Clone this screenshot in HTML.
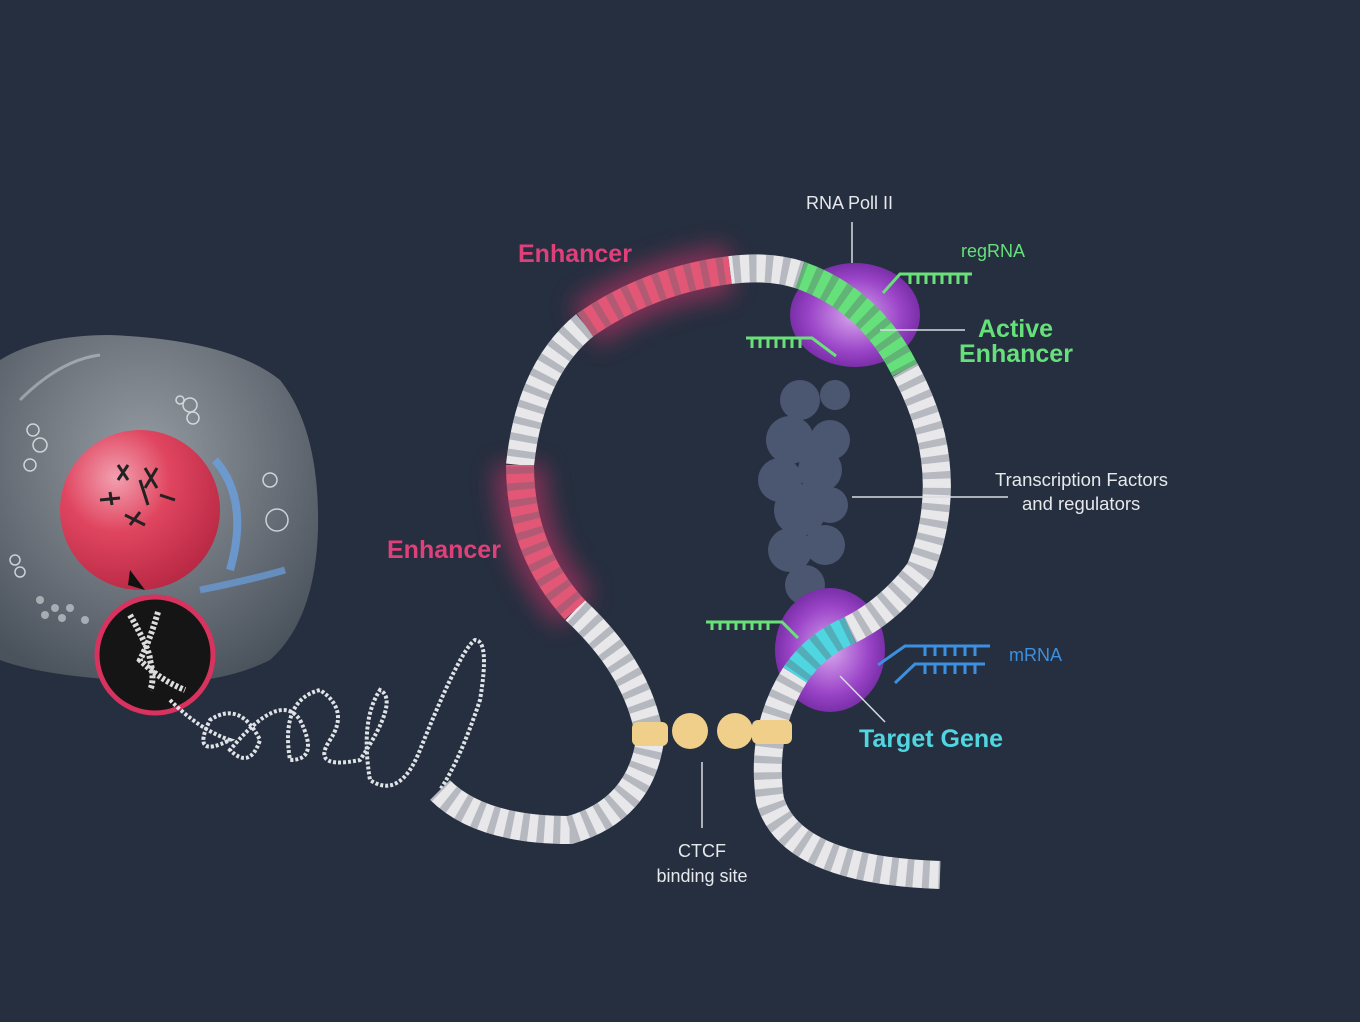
<!DOCTYPE html>
<html><head><meta charset="utf-8"><style>
html,body{margin:0;padding:0;background:#252f3f;}
svg{display:block}
text{font-family:"Liberation Sans",sans-serif}
</style></head><body>
<svg width="1360" height="1022" viewBox="0 0 1360 1022" xmlns="http://www.w3.org/2000/svg">
<defs>
<radialGradient id="cell" cx="0.45" cy="0.35" r="0.7"><stop offset="0" stop-color="#9aa0a6"/><stop offset="0.6" stop-color="#6c737b"/><stop offset="1" stop-color="#4c545e"/></radialGradient>
<radialGradient id="nuc" cx="0.35" cy="0.3" r="0.75"><stop offset="0" stop-color="#f2a0b0"/><stop offset="0.45" stop-color="#e0455f"/><stop offset="1" stop-color="#b82844"/></radialGradient>
<radialGradient id="pur" cx="0.5" cy="0.5" r="0.5"><stop offset="0" stop-color="#d9a8ee"/><stop offset="0.7" stop-color="#9b45c8"/><stop offset="1" stop-color="#7a2fa8"/></radialGradient>
<filter id="blur" x="-50%" y="-50%" width="200%" height="200%"><feGaussianBlur stdDeviation="12"/></filter>
</defs>
<rect width="1360" height="1022" fill="#252f3f"/>
<!-- cell -->
<path d="M0 360 Q40 335 110 335 Q230 340 280 380 Q320 430 318 530 Q315 620 270 660 Q210 690 120 680 Q40 675 0 660 Z" fill="url(#cell)" opacity="0.95"/>
<g fill="none" stroke="#e8ecf0" stroke-width="1.5" opacity="0.8">
<circle cx="190" cy="405" r="7"/><circle cx="180" cy="400" r="4"/><circle cx="193" cy="418" r="6"/>
<circle cx="33" cy="430" r="6"/><circle cx="40" cy="445" r="7"/><circle cx="30" cy="465" r="6"/>
<circle cx="270" cy="480" r="7"/><circle cx="277" cy="520" r="11"/>
<circle cx="15" cy="560" r="5"/><circle cx="20" cy="572" r="5"/>
<path d="M20 400 Q60 360 100 355" stroke-width="3" opacity="0.5"/>
</g>
<g fill="#c8ccd0" opacity="0.7"><circle cx="40" cy="600" r="4"/><circle cx="55" cy="608" r="4"/><circle cx="45" cy="615" r="4"/><circle cx="62" cy="618" r="4"/><circle cx="70" cy="608" r="4"/><circle cx="85" cy="620" r="4"/></g>
<path d="M215 460 Q250 500 230 570" stroke="#6aa0e0" stroke-width="8" fill="none" opacity="0.8"/>
<path d="M200 590 Q250 580 285 570" stroke="#6aa0e0" stroke-width="7" fill="none" opacity="0.7"/>
<circle cx="140" cy="510" r="80" fill="url(#nuc)"/>
<g stroke="#222" stroke-width="3"><path d="M118 465 L128 480 M128 465 L118 480 M145 468 L157 488 M157 468 L145 488 M100 500 L120 498 M110 492 L112 505 M160 495 L175 500 M125 515 L145 525 M130 525 L140 512 M140 480 L148 505"/></g>
<path d="M128 585 L130 570 L145 590 Z" fill="#111"/>
<circle cx="155" cy="655" r="58" fill="#151515" stroke="#d8325f" stroke-width="5"/>
<g stroke="#ddd" stroke-width="6" fill="none" stroke-dasharray="3 2"><path d="M130 615 Q150 650 150 660 Q155 680 150 690"/><path d="M158 612 Q150 640 140 660 Q160 680 185 690"/></g>
<!-- chromatin -->
<path d="M170 700 Q200 730 230 740 Q190 760 210 720 Q240 700 260 740 Q250 770 230 750 Q280 690 300 720 Q320 760 290 760 Q280 700 320 690 Q350 710 330 740 Q310 770 360 760 Q400 700 380 690 Q360 720 370 780 Q400 800 420 750 Q460 650 475 640 Q490 640 480 700 Q460 760 440 790" fill="none" stroke="#dfe2e6" stroke-width="4" stroke-dasharray="3 2"/>
<!-- glows -->
<g filter="url(#blur)" opacity="0.55"><path d="M585 325 Q650 280 730 270" stroke="#d0306a" stroke-width="50" fill="none"/><path d="M520 465 Q520 550 575 610" stroke="#d0306a" stroke-width="50" fill="none"/></g>
<!-- TF cluster -->
<g fill="#4b5670"><circle cx="800" cy="400" r="20"/><circle cx="835" cy="395" r="15"/><circle cx="790" cy="440" r="24"/><circle cx="830" cy="440" r="20"/><circle cx="780" cy="480" r="22"/><circle cx="820" cy="470" r="22"/><circle cx="800" cy="510" r="26"/><circle cx="830" cy="505" r="18"/><circle cx="790" cy="550" r="22"/><circle cx="825" cy="545" r="20"/><circle cx="805" cy="585" r="20"/></g>
<!-- purple blobs -->
<ellipse cx="855" cy="315" rx="65" ry="52" fill="url(#pur)"/>
<ellipse cx="830" cy="650" rx="55" ry="62" fill="url(#pur)"/>
<!-- DNA rope -->
<g fill="none" stroke-width="28" stroke-linecap="butt">
<path d="M585 325 Q530 370 520 465" stroke="#e8e8ea"/>
<path d="M575 610 Q640 670 650 740 Q640 810 570 830 Q480 830 440 790" stroke="#e8e8ea"/>
<path d="M730 270 Q770 265 800 275" stroke="#e8e8ea"/>
<path d="M905 370 Q960 470 920 570 Q890 610 850 630" stroke="#e8e8ea"/>
<path d="M795 675 Q760 730 770 800 Q790 870 940 875" stroke="#e8e8ea"/>
<path d="M585 325 Q650 280 730 270" stroke="#e25676"/>
<path d="M520 465 Q520 550 575 610" stroke="#e25676"/>
<path d="M800 275 Q870 300 905 370" stroke="#66e07a"/>
<path d="M850 630 Q815 645 795 675" stroke="#4fd6e0"/>
</g>
<g fill="none" stroke-width="28" stroke="#5a6270" stroke-dasharray="7 9" opacity="0.35">
<path d="M585 325 Q530 370 520 465 Q520 550 575 610 Q640 670 650 740 Q640 810 570 830 Q480 830 440 790"/>
<path d="M585 325 Q650 280 730 270 Q770 265 800 275 Q870 300 905 370 Q960 470 920 570 Q890 610 850 630 Q815 645 795 675 Q760 730 770 800 Q790 870 940 875"/>
</g>
<g fill="#efcf8a">
<rect x="632" y="722" width="36" height="24" rx="6"/><rect x="752" y="720" width="40" height="24" rx="6"/>
<circle cx="690" cy="731" r="18"/><circle cx="735" cy="731" r="18"/>
</g>
<!-- RNA strands -->
<g stroke="#6ae07a" stroke-width="3" fill="none">
<path d="M883 293 L900 274 L972 274"/><path d="M910 274 v10 M918 274 v10 M926 274 v10 M934 274 v10 M942 274 v10 M950 274 v10 M958 274 v10 M966 274 v10"/>
<path d="M836 356 L812 338 L746 338"/><path d="M752 338 v10 M760 338 v10 M768 338 v10 M776 338 v10 M784 338 v10 M792 338 v10 M800 338 v10"/>
<path d="M798 638 L782 622 L706 622"/><path d="M712 622 v8 M720 622 v8 M728 622 v8 M736 622 v8 M744 622 v8 M752 622 v8 M760 622 v8 M768 622 v8"/>
</g>
<g stroke="#3d8fe0" stroke-width="3" fill="none">
<path d="M878 665 L905 646 L990 646"/><path d="M895 683 L915 664 L985 664"/>
<path d="M925 646 v10 M935 646 v10 M945 646 v10 M955 646 v10 M965 646 v10 M975 646 v10 M925 664 v10 M935 664 v10 M945 664 v10 M955 664 v10 M965 664 v10 M975 664 v10"/>
</g>
<!-- leader lines -->
<g stroke="#d8dce2" stroke-width="1.5">
<line x1="852" y1="222" x2="852" y2="263"/><line x1="880" y1="330" x2="965" y2="330"/><line x1="852" y1="497" x2="1008" y2="497"/><line x1="840" y1="676" x2="885" y2="722"/><line x1="702" y1="762" x2="702" y2="828"/>
</g>
<!-- labels -->
<text x="806" y="209" fill="#e6e8ec" font-size="18">RNA Poll II</text>
<text x="961" y="257" fill="#66e07a" font-size="18">regRNA</text>
<text x="978" y="337" fill="#66e07a" font-size="25" font-weight="bold">Active</text>
<text x="959" y="362" fill="#66e07a" font-size="25" font-weight="bold">Enhancer</text>
<text x="518" y="262" fill="#e0407a" font-size="25" font-weight="bold">Enhancer</text>
<text x="387" y="558" fill="#e0407a" font-size="25" font-weight="bold">Enhancer</text>
<text x="995" y="486" fill="#e6e8ec" font-size="18.5">Transcription Factors</text>
<text x="1022" y="510" fill="#e6e8ec" font-size="18.5">and regulators</text>
<text x="1009" y="661" fill="#3d8fe0" font-size="18">mRNA</text>
<text x="859" y="747" fill="#4fd6e0" font-size="25" font-weight="bold">Target Gene</text>
<text x="702" y="857" fill="#e6e8ec" font-size="18" text-anchor="middle">CTCF</text>
<text x="702" y="882" fill="#e6e8ec" font-size="18" text-anchor="middle">binding site</text>
</svg>
</body></html>
